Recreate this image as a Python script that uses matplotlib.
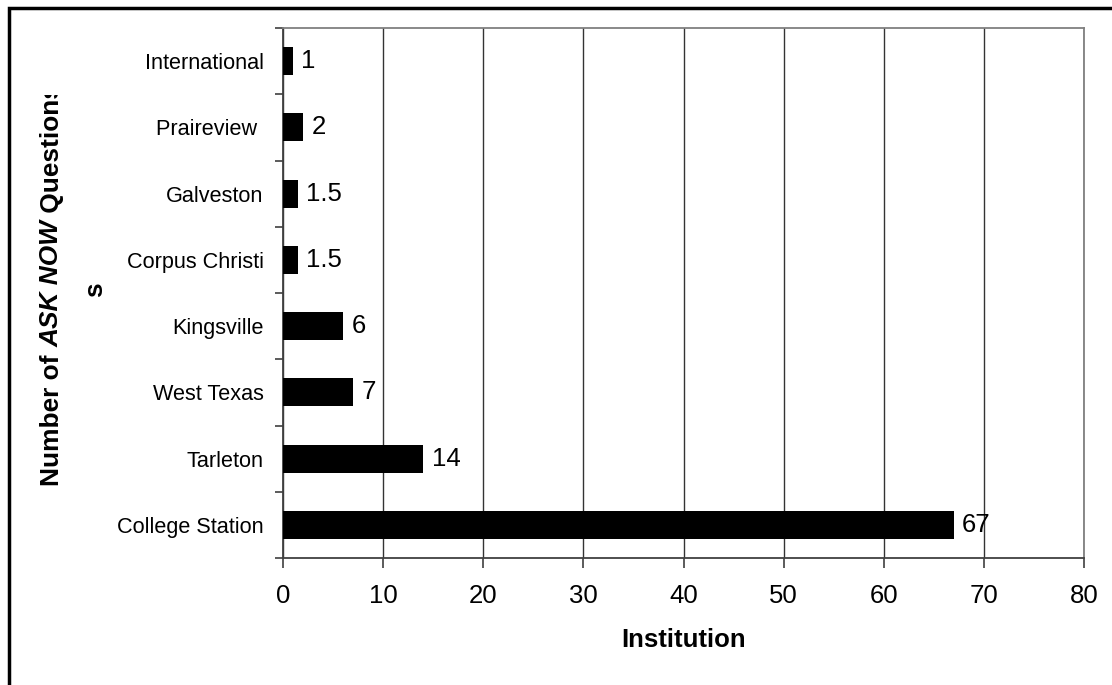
import matplotlib
matplotlib.use("Agg")
import matplotlib.pyplot as plt
from matplotlib.patches import Rectangle

plt.rcParams['font.family'] = ['Liberation Sans', 'DejaVu Sans']

# ---------------- DATA ----------------
institutions = ["College Station", "Tarleton", "West Texas", "Kingsville",
                "Corpus Christi", "Galveston", "Praireview ", "International"]
questions = [67, 14, 7, 6, 1.5, 1.5, 2, 1]
value_labels = ["67", "14", "7", "6", "1.5", "1.5", "2", "1"]
x_ticks = [0, 10, 20, 30, 40, 50, 60, 70, 80]

# ---------------- PLOT ----------------
W, H = 1112, 685
fig = plt.figure(figsize=(W / 100, H / 100), dpi=100)
ax = fig.add_axes([283 / W, 1 - 558 / H, (1084 - 283) / W, (558 - 28) / H])

pos = list(range(len(institutions)))
ax.barh(pos, questions, height=0.42, color="black", zorder=3)

for p, v, lab in zip(pos, questions, value_labels):
    ax.annotate(lab, (v, p), xytext=(6, 0), textcoords="offset points",
                va="center", ha="left", fontsize=18.5, zorder=4)

ax.set_xlim(0, 80)
ax.set_ylim(-0.5, len(institutions) - 0.5)
ax.set_xticks(x_ticks)
ax.set_xticklabels([str(t) for t in x_ticks])
ax.tick_params(axis="x", direction="out", length=7, width=1.2,
               color="#404040", labelsize=18.5, pad=12)

# category labels on minor ticks, tick marks between bars
ax.set_yticks([p - 0.5 for p in pos] + [len(pos) - 0.5])
ax.set_yticklabels([])
ax.set_yticks(pos, minor=True)
ax.set_yticklabels(institutions, minor=True)
ax.tick_params(axis="y", which="major", direction="out", length=6,
               width=1.2, color="#404040")
ax.tick_params(axis="y", which="minor", length=0, labelsize=15.6, pad=14)

ax.grid(axis="x", color="#333333", linewidth=1, zorder=0)
ax.grid(axis="y", visible=False)
for side in ["left", "bottom"]:
    ax.spines[side].set_color("#404040")
    ax.spines[side].set_linewidth(1.3)
for side in ["top", "right"]:
    ax.spines[side].set_color("#808080")
    ax.spines[side].set_linewidth(1.3)

ax.set_xlabel("Institution", fontsize=18.5, fontweight="bold", labelpad=14)

# y label: mixed italic run, wrapped with clipped end like the original
fig.canvas.draw()
renderer = fig.canvas.get_renderer()
x_line = 52 / W
y_cur = 1 - 486 / H
parts = [("Number of ", "normal"), ("ASK NOW", "italic"), (" Questions", "normal")]
clip = Rectangle((0, 0), 1, 1 - 95 / H, transform=fig.transFigure,
                 visible=False)
fig.add_artist(clip)
for txt, style in parts:
    t = fig.text(x_line, y_cur, txt, rotation=90, ha="center", va="bottom",
                 fontsize=18.9, fontweight="bold", fontstyle=style)
    t.set_clip_path(clip)
    bb = t.get_window_extent(renderer)
    y_cur += bb.height / H
fig.text(95 / W, 1 - 290 / H, "s", rotation=90, ha="center", va="center",
         fontsize=18.9, fontweight="bold")

# outer frame
fig.add_artist(Rectangle((9 / W, -0.1), 1.2, (685 - 8) / H + 0.1,
                         transform=fig.transFigure, fill=False,
                         edgecolor="black", linewidth=2.5))

fig.savefig("out.png", dpi=100)
